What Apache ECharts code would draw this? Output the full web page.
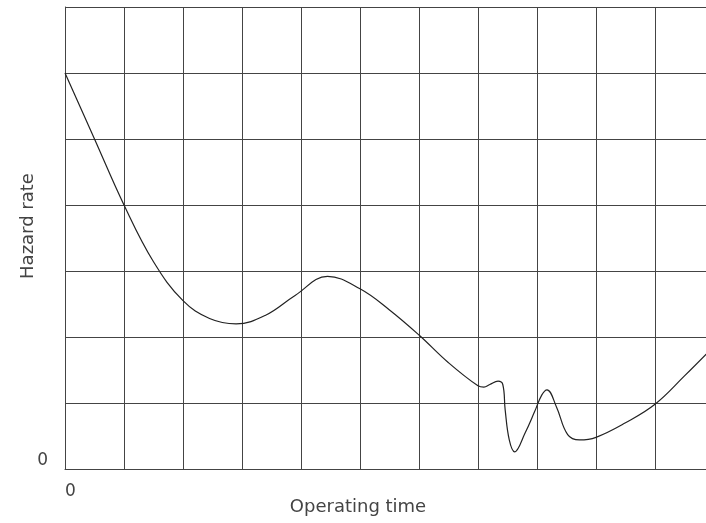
<!DOCTYPE html>
<html>
<head>
<meta charset="utf-8">
<script src="https://cdn.jsdelivr.net/npm/echarts@6/dist/echarts.min.js"></script>
<style>
html,body{margin:0;padding:0;background:#fff;}
#c{width:706px;height:523px;}
</style>
</head>
<body>
<div id="c"></div>
<script>
// Operating time (grid units)
const timeValues = [0, 0.5, 1.0, 1.5, 2.0, 2.45, 2.9, 3.4, 3.9, 4.45, 5.0, 5.5, 6.0, 6.5, 7.0, 7.1, 7.2, 7.34, 7.42, 7.46, 7.53, 7.62, 7.8, 7.96, 8.08, 8.17, 8.33, 8.52, 8.72, 9.0, 9.5, 10.0, 10.5, 11];
// Hazard rate (grid units)
const hazardValues = [6.0, 5.0, 4.0, 3.14, 2.55, 2.28, 2.2, 2.33, 2.63, 2.92, 2.73, 2.41, 2.03, 1.61, 1.26, 1.24, 1.28, 1.33, 1.28, 0.9, 0.44, 0.26, 0.55, 0.87, 1.12, 1.20, 0.94, 0.52, 0.44, 0.48, 0.70, 0.98, 1.41, 1.86];
const xTickLabels = ['0', '', '', '', '', '', '', '', '', '', '', ''];
const yTickLabels = ['0', '', '', '', '', '', '', ''];
const xAxisName = 'Operating time';
const yAxisName = 'Hazard rate';

const chart = echarts.init(document.getElementById('c'), null, {renderer: 'canvas'});
const lineCol = '#444';
const fontFam = '"DejaVu Sans", sans-serif';
chart.setOption({
  animation: false,
  backgroundColor: '#fff',
  grid: {left: 65, top: 7, width: 649, height: 462, outerBoundsMode: 'none', containLabel: false},
  xAxis: {
    type: 'value', min: 0, max: 11, interval: 1,
    axisLine: {show: true, lineStyle: {color: lineCol, width: 1}},
    axisTick: {show: false},
    splitLine: {show: true, lineStyle: {color: lineCol, width: 1}},
    axisLabel: {
      formatter: v => xTickLabels[Math.round(v)] || '',
      color: '#444', fontSize: 17, fontFamily: fontFam, margin: 14, align: 'left'
    }
  },
  yAxis: {
    type: 'value', min: 0, max: 7, interval: 1,
    axisLine: {show: true, lineStyle: {color: lineCol, width: 1}},
    axisTick: {show: false},
    splitLine: {show: true, lineStyle: {color: lineCol, width: 1}},
    axisLabel: {
      formatter: v => yTickLabels[Math.round(v)] || '',
      color: '#444', fontSize: 17, fontFamily: fontFam, margin: 17, verticalAlign: 'bottom'
    }
  },
  graphic: [
    {type: 'text', x: 358, y: 507, style: {text: xAxisName, x: 0, y: 0, align: 'center', verticalAlign: 'middle', fontSize: 18, fontFamily: fontFam, fill: '#444'}},
    {type: 'text', rotation: Math.PI / 2, x: 28, y: 226, style: {text: yAxisName, x: 0, y: 0, align: 'center', verticalAlign: 'middle', fontSize: 18, fontFamily: fontFam, fill: '#444'}}
  ],
  series: [{
    type: 'line',
    data: timeValues.map((t, i) => [t, hazardValues[i]]),
    smooth: 0.4,
    showSymbol: false,
    lineStyle: {color: '#222', width: 1.2},
    clip: true
  }]
});
</script>
</body>
</html>
